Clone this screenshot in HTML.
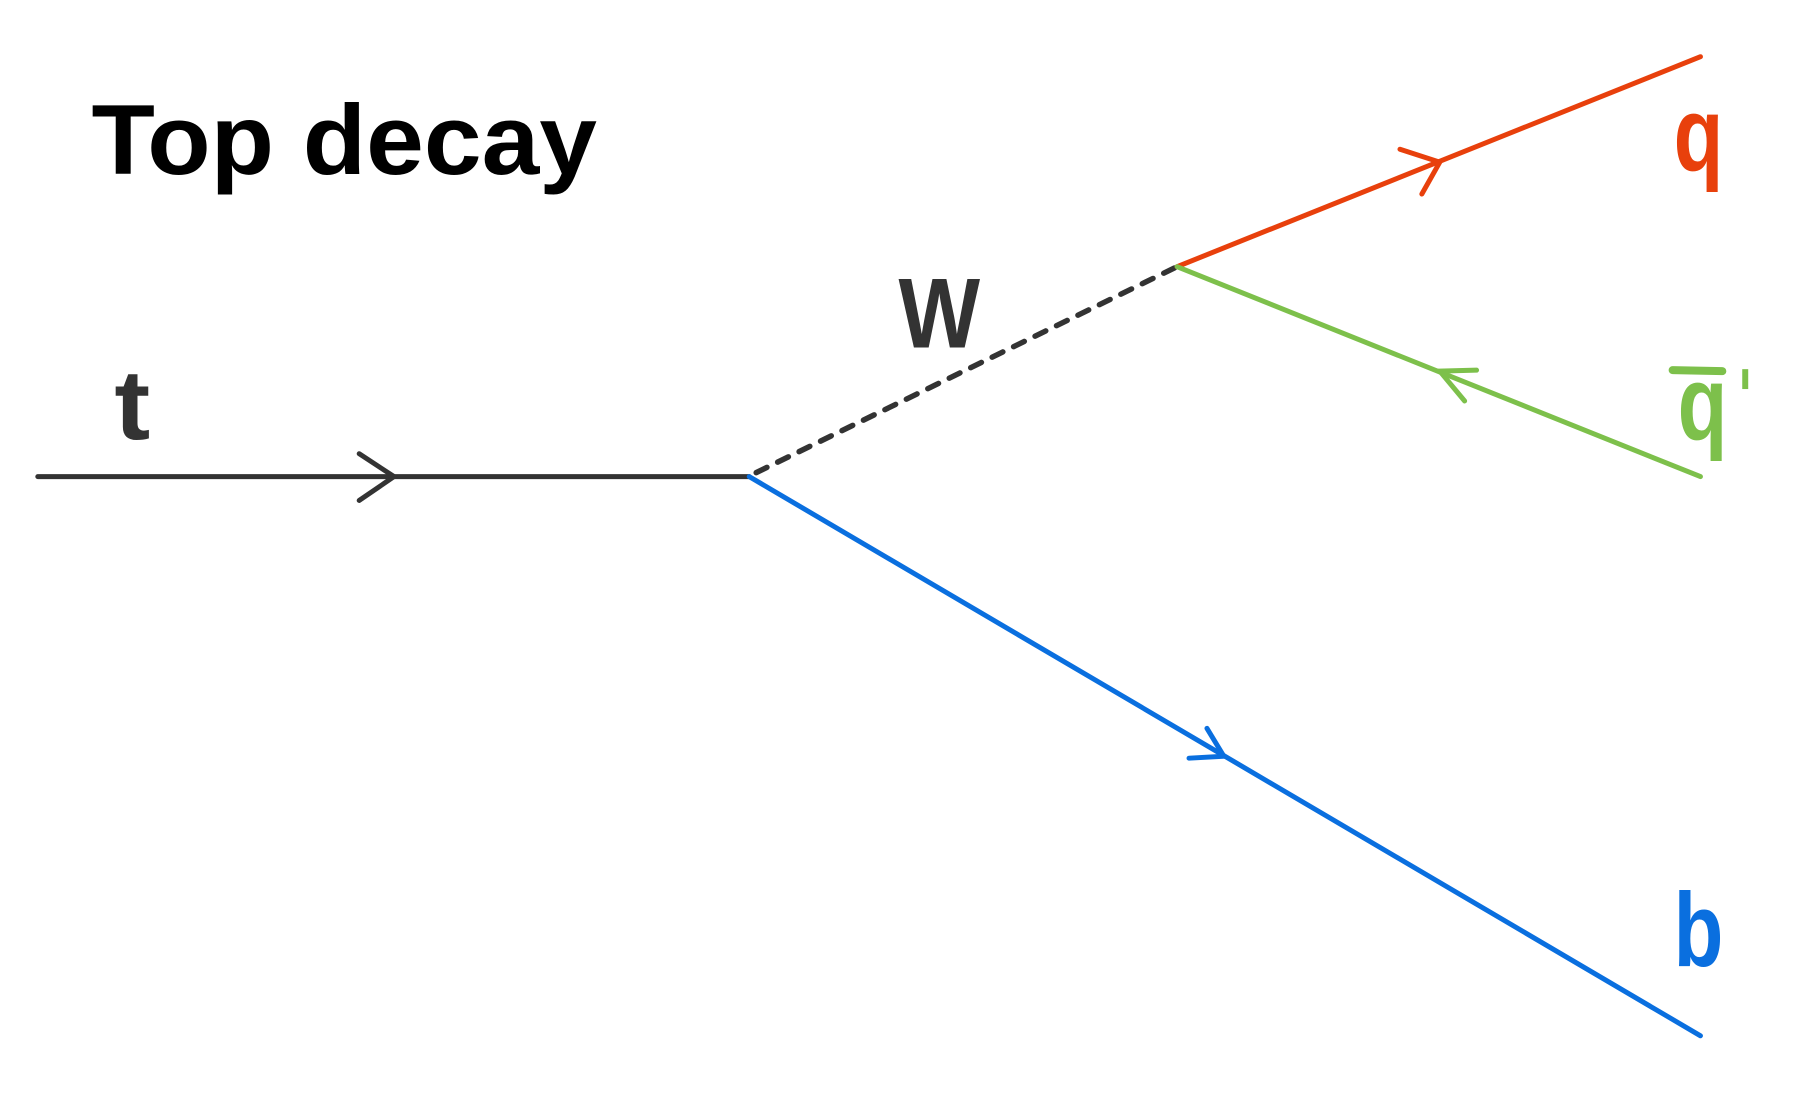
<!DOCTYPE html>
<html><head><meta charset="utf-8"><style>
html,body{margin:0;padding:0;background:#fff}
svg{display:block}
text{font-family:"Liberation Sans Narrow","Liberation Sans",sans-serif;font-weight:bold}
</style></head><body>
<svg width="1801" height="1116" viewBox="0 0 1801 1116">
<g transform="scale(0.995)">
<text x="92" y="175" font-size="100" textLength="508" lengthAdjust="spacingAndGlyphs" fill="#000">Top decay</text>
<g stroke-linecap="round" stroke-width="5" fill="none">
<line x1="38" y1="479" x2="753" y2="479" stroke="#333"/>
<polyline points="361,456 396,479 361,503" stroke="#333"/>
<line x1="760" y1="475" x2="1183" y2="268" stroke="#333" stroke-dasharray="12,12" stroke-width="5.5"/>
<line x1="1183" y1="268" x2="1709" y2="57" stroke="#e8400c"/>
<polyline points="1407,150 1447,163 1429,195" stroke="#e8400c"/>
<line x1="1183" y1="268" x2="1709" y2="479" stroke="#7dc04b"/>
<polyline points="1484,372 1447,373 1472,403" stroke="#7dc04b"/>
<line x1="753" y1="479" x2="1709" y2="1041" stroke="#0a6fdf"/>
<polyline points="1213,732 1230,760 1195,762" stroke="#0a6fdf"/>
</g>
<text x="115" y="441" font-size="100" textLength="36" lengthAdjust="spacingAndGlyphs" fill="#333">t</text>
<text x="903" y="349" font-size="100" textLength="82" lengthAdjust="spacingAndGlyphs" fill="#333">W</text>
<text x="1682" y="171" font-size="105" textLength="50" lengthAdjust="spacingAndGlyphs" fill="#e8400c">q</text>
<g>
<line x1="1681" y1="372" x2="1731" y2="373" stroke="#7dc04b" stroke-width="8" stroke-linecap="round"/>
<text x="1686" y="441" font-size="105" textLength="50" lengthAdjust="spacingAndGlyphs" fill="#7dc04b">q</text>
<rect x="1751" y="371" width="6" height="20" fill="#7dc04b"/>
</g>
<text x="1682" y="971" font-size="105" textLength="50" lengthAdjust="spacingAndGlyphs" fill="#0a6fdf">b</text>
</g>
</svg>
</body></html>
